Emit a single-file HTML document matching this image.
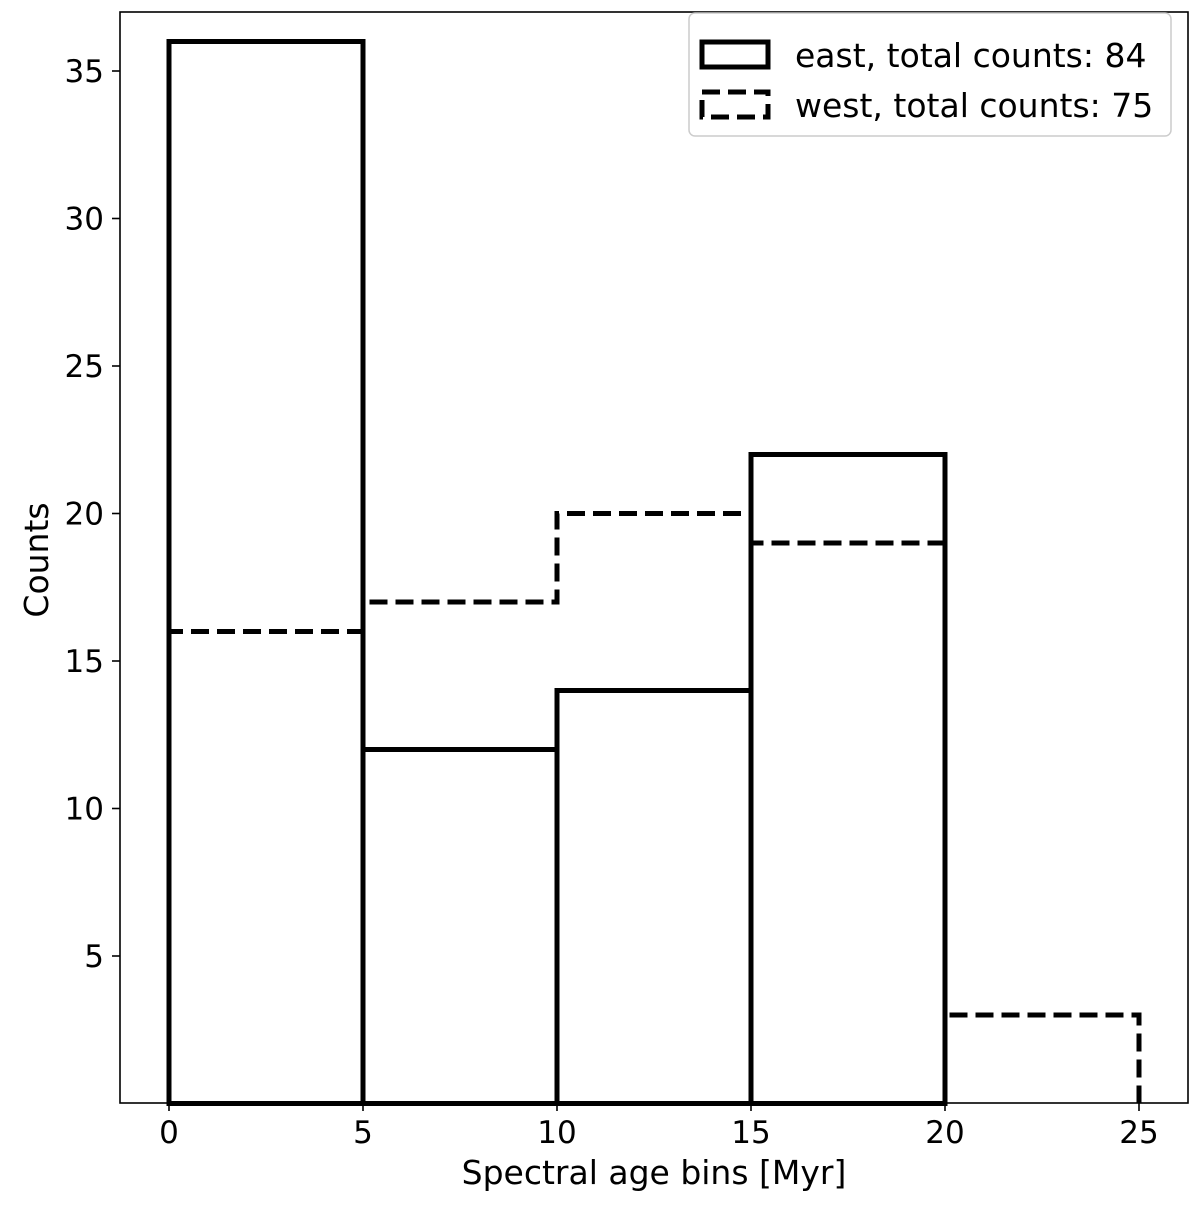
<!DOCTYPE html>
<html><head><meta charset="utf-8"><style>
body{margin:0;background:#fff}
svg text{font-family:"DejaVu Sans","Liberation Sans",sans-serif;fill:#000}
</style></head><body>
<svg id="chart" width="1200" height="1200" xmlns="http://www.w3.org/2000/svg">
<rect x="120" y="12" width="1068" height="1091" fill="none" stroke="#000" stroke-width="1.6"/>
<g id="marks"></g>
<g id="axes"></g>
<text x="654" y="1184" font-size="33" text-anchor="middle">Spectral age bins [Myr]</text>
<text transform="translate(48,560) rotate(-90)" font-size="33" text-anchor="middle">Counts</text>
<g>
<rect x="689" y="13" width="482" height="123" rx="6" fill="#fff" stroke="#ccc" stroke-width="1.5"/>
<rect x="702" y="42" width="66" height="25" fill="none" stroke="#000" stroke-width="5"/>
<text x="795" y="67" font-size="33">east, total counts: 84</text>
<rect x="702" y="92" width="66" height="25" fill="none" stroke="#000" stroke-width="5" stroke-dasharray="18,8"/>
<text x="795" y="117" font-size="33">west, total counts: 75</text>
</g>
</svg>
<script>
const binEdges=[0,5,10,15,20,25];
const eastCounts=[36,12,14,22,0];
const westCounts=[16,17,20,19,3];
const xTicks=[0,5,10,15,20,25];
const yTicks=[5,10,15,20,25,30,35];
const X=v=>169+v*38.8;
const Y=v=>1103.5-v*29.5;
const NS="http://www.w3.org/2000/svg";
const marks=document.getElementById('marks'),axes=document.getElementById('axes');
function mk(tag,attrs,parent){const e=document.createElementNS(NS,tag);for(const k in attrs)e.setAttribute(k,attrs[k]);parent.appendChild(e);return e;}
eastCounts.forEach((c,i)=>{if(c<=0)return;
 const r=mk('rect',{x:X(binEdges[i]),y:Y(c),width:X(binEdges[i+1])-X(binEdges[i]),height:Y(0)-Y(c),fill:'none',stroke:'#000','stroke-width':5},marks);
 
 
});
let d=`M${X(binEdges[0])},${Y(0)}`;
westCounts.forEach((c,i)=>{d+=` L${X(binEdges[i])},${Y(c)} L${X(binEdges[i+1])},${Y(c)}`;});
d+=` L${X(binEdges[binEdges.length-1])},${Y(0)}`;
const w=mk('path',{d:d,fill:'none',stroke:'#000','stroke-width':5,'stroke-dasharray':'18,8'},marks);


xTicks.forEach(t=>{
 const l=mk('line',{x1:X(t),x2:X(t),y1:1103,y2:1111,stroke:'#000','stroke-width':1.6},axes);
 
 
 const tx=mk('text',{x:X(t),y:1143,'font-size':31,'text-anchor':'middle'},axes);tx.textContent=t;
 
 
});
yTicks.forEach(t=>{
 const l=mk('line',{x1:112,x2:120,y1:Y(t),y2:Y(t),stroke:'#000','stroke-width':1.6},axes);
 
 
 const tx=mk('text',{x:104,y:Y(t)+11,'font-size':31,'text-anchor':'end'},axes);tx.textContent=t;
 
 
});
</script>
</body></html>
